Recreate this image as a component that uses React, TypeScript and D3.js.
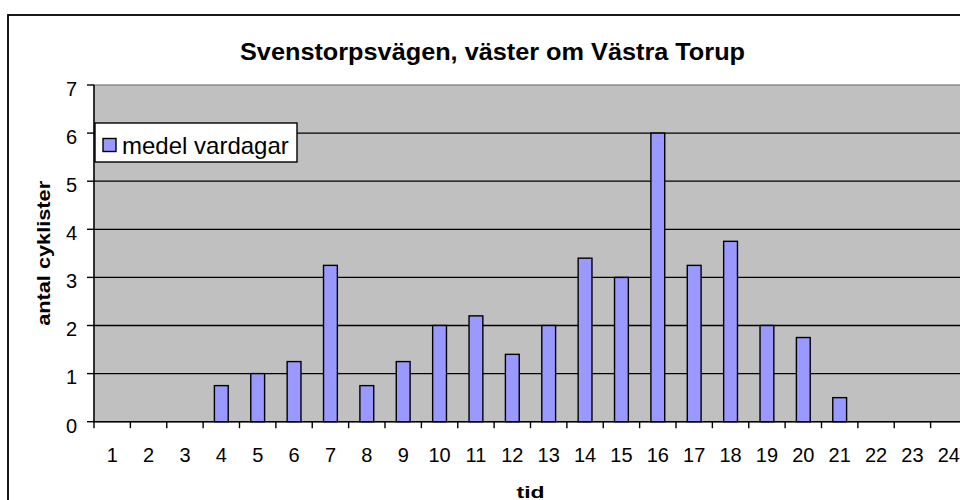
import React from "react";
import * as d3 from "d3";

const titleText = "Svenstorpsvägen, väster om Västra Torup";
const seriesName = "medel vardagar";
const xAxisTitle = "tid";
const yAxisTitle = "antal cyklister";
const categories = ["1","2","3","4","5","6","7","8","9","10","11","12","13","14","15","16","17","18","19","20","21","22","23","24"];
const values = [0, 0, 0, 0.75, 1, 1.25, 3.25, 0.75, 1.25, 2, 2.2, 1.4, 2, 3.4, 3, 6, 3.25, 3.75, 2, 1.75, 0.5, 0, 0, 0];
const yTicks = [0, 1, 2, 3, 4, 5, 6, 7];

const FONT = "'Liberation Sans', Arial, Helvetica, sans-serif";

export default function App() {
  const W = 960, H = 500;
  const plot = { left: 94, right: 967, top: 85, bottom: 421.7 };
  const x = d3.scaleBand<string>().domain(categories).range([plot.left, plot.right]).paddingInner(0.62).paddingOuter(0.31);
  const y = d3.scaleLinear().domain([0, 7]).range([plot.bottom, plot.top]);
  const step = x.step();
  const off = (step - x.bandwidth()) / 2;
  const boundaries = categories.map((c) => (x(c) as number) - off);

  return (
    <svg width={W} height={H} style={{ position: "absolute", left: 0, top: 0, background: "#fff" }} fontFamily={FONT}>
      <rect x={0} y={0} width={W} height={H} fill="#fff" />
      {/* chart frame */}
      <rect x={8} y={15} width={969} height={500} fill="#fff" stroke="#000" strokeWidth={1.8} />
      {/* title */}
      <text x={492.5} y={60} textAnchor="middle" fontSize={23} fontWeight="bold" textLength={505} lengthAdjust="spacingAndGlyphs" fill="#000">{titleText}</text>
      {/* plot area */}
      <rect x={plot.left} y={plot.top} width={plot.right - plot.left} height={plot.bottom - plot.top} fill="#C0C0C0" stroke="#808080" strokeWidth={1.3} />
      {/* gridlines */}
      {yTicks.filter((t) => t > 0 && t < 7).map((t) => (
        <line key={"g" + t} x1={plot.left} x2={plot.right} y1={y(t)} y2={y(t)} stroke="#000" strokeWidth={1.3} />
      ))}
      {/* bars */}
      {categories.map((c, i) => (
        <rect key={"b" + c} x={x(c)} y={y(values[i])} width={x.bandwidth()} height={Math.max(0, y(0) - y(values[i]))} fill="#9999FF" stroke="#000" strokeWidth={1.4} />
      ))}
      {/* y axis */}
      <line x1={plot.left} x2={plot.left} y1={plot.top} y2={plot.bottom} stroke="#000" strokeWidth={1.4} />
      {yTicks.map((t) => (
        <g key={"yt" + t}>
          <line x1={plot.left - 7} x2={plot.left} y1={y(t)} y2={y(t)} stroke="#000" strokeWidth={1.4} />
          <text x={77} y={y(t) + 10.8} textAnchor="end" fontSize={20} fill="#000">{t}</text>
        </g>
      ))}
      {/* x axis */}
      <line x1={plot.left} x2={plot.right} y1={plot.bottom} y2={plot.bottom} stroke="#000" strokeWidth={1.4} />
      {boundaries.concat([plot.right]).map((bx, i) => (
        <line key={"xt" + i} x1={bx} x2={bx} y1={plot.bottom} y2={plot.bottom + 6.5} stroke="#000" strokeWidth={1.4} />
      ))}
      {categories.map((c) => (
        <text key={"xl" + c} x={(x(c) as number) + x.bandwidth() / 2} y={461.8} textAnchor="middle" fontSize={20} fill="#000">{c}</text>
      ))}
      {/* axis titles */}
      <text x={(plot.left + plot.right) / 2} y={497.5} textAnchor="middle" fontSize={17} fontWeight="bold" textLength={28} lengthAdjust="spacingAndGlyphs" fill="#000">{xAxisTitle}</text>
      <text transform={`translate(50, ${(plot.top + plot.bottom) / 2}) rotate(-90)`} textAnchor="middle" fontSize={18.5} fontWeight="bold" textLength={145} lengthAdjust="spacingAndGlyphs" fill="#000">{yAxisTitle}</text>
      {/* legend */}
      <rect x={95} y={123} width={202} height={39} fill="#fff" stroke="#000" strokeWidth={1.4} />
      <rect x={103} y={138.5} width={13} height={13} fill="#9999FF" stroke="#000" strokeWidth={1.4} />
      <text x={122} y={154} fontSize={24} fill="#000">{seriesName}</text>
    </svg>
  );
}
